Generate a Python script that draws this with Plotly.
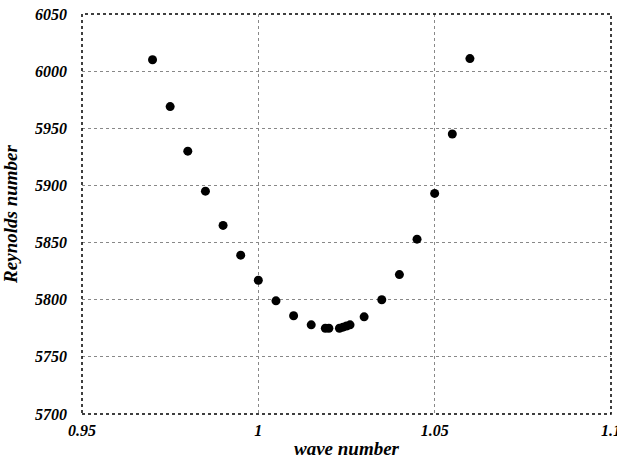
import plotly.graph_objects as go

wave_number = [0.97, 0.975, 0.98, 0.985, 0.99, 0.995, 1.0, 1.005, 1.01, 1.015,
               1.019, 1.02, 1.023, 1.024, 1.025, 1.026, 1.03, 1.035, 1.04, 1.045,
               1.05, 1.055, 1.06]
reynolds = [6010, 5969, 5930, 5895, 5865, 5839, 5817, 5799, 5786, 5778,
            5775, 5775, 5775, 5776, 5777, 5778, 5785, 5800, 5822, 5853,
            5893, 5945, 6011]

x_ticks = [0.95, 1.0, 1.05, 1.1]
x_labels = ["0.95", "1", "1.05", "1.1"]
y_ticks = [5700, 5750, 5800, 5850, 5900, 5950, 6000, 6050]
y_labels = ["5700", "5750", "5800", "5850", "5900", "5950", "6000", "6050"]

font_family = "Liberation Serif"

fig = go.Figure()
fig.add_trace(go.Scatter(
    x=wave_number, y=reynolds, mode="markers",
    marker=dict(color="black", size=9),
    showlegend=False,
))

tickfont = dict(family=font_family, size=16, color="black")
titlefont = dict(family=font_family, size=19, color="black")

fig.update_layout(
    width=617, height=459,
    margin=dict(l=82, r=6, t=14, b=45),
    paper_bgcolor="white", plot_bgcolor="white",
    xaxis=dict(
        range=[0.95, 1.1], tickvals=x_ticks,
        ticktext=[f"<b><i>{t}</i></b>" for t in x_labels],
        tickfont=tickfont, showgrid=True, gridcolor="#888888", griddash="dot",
        gridwidth=1, zeroline=False, showline=False, ticks="",
        ticklabelstandoff=5, ticklabeloverflow="allow", automargin=False,
        title=dict(text="<b><i>wave number</i></b>", font=titlefont, standoff=4),
    ),
    yaxis=dict(
        range=[5700, 6050], tickvals=y_ticks,
        ticktext=[f"<b><i>{t}</i></b>" for t in y_labels],
        tickfont=tickfont, showgrid=True, gridcolor="#888888", griddash="dot",
        gridwidth=1, zeroline=False, showline=False, ticks="",
        ticklabelstandoff=14, ticklabeloverflow="allow", automargin=False,
        title=dict(text="<b><i>Reynolds number</i></b>", font=titlefont, standoff=12),
    ),
)
fig.add_shape(type="rect", xref="paper", yref="paper", x0=0, y0=0, x1=1, y1=1,
              line=dict(color="black", width=1.5, dash="dot"))

fig.write_html(
    "out.html",
    config={"displayModeBar": False},
    post_script="document.body.style.margin='0';document.body.style.overflow='hidden';",
)
